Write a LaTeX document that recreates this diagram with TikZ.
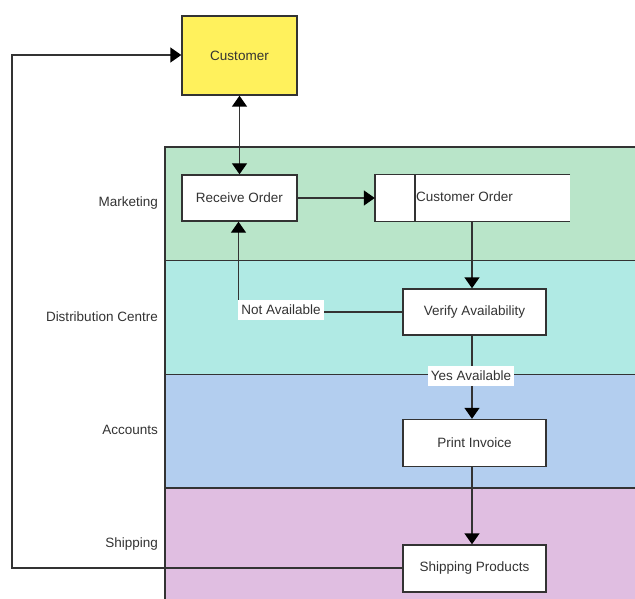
\documentclass[tikz,border=0pt]{standalone}
\usepackage{fontspec}
\setmainfont{Liberation Sans}
\usetikzlibrary{arrows.meta}
\definecolor{linec}{HTML}{333333}
\definecolor{txtc}{HTML}{333333}
\definecolor{custyellow}{HTML}{FFF15C}
\definecolor{lanegreen}{HTML}{B9E5C9}
\definecolor{lanecyan}{HTML}{B0EAE4}
\definecolor{laneblue}{HTML}{B3CEEF}
\definecolor{lanepink}{HTML}{E0BEE1}
\begin{document}
\begin{tikzpicture}[x=1pt,y=-1pt,
  every node/.style={text=txtc, font=\fontsize{13.5}{16}\selectfont},
  procbox/.style={draw=linec, line width=1.4pt, fill=white, inner sep=0pt},
  lanebox/.style={draw=linec, line width=1.4pt},
  lanelabel/.style={anchor=east, inner sep=0pt},
  conn/.style={draw=linec, line width=1.4pt},
  tip/.style={Triangle[length=11pt,width=15pt,color=black]},
  arr/.style={conn, -{Triangle[length=11pt,width=15pt,color=black]}},
  edgelabel/.style={fill=white, inner xsep=3pt, inner ysep=5pt}
]
\useasboundingbox (0,0) rectangle (635,599);
\clip (0,0) rectangle (635,599);
% lanes
\path[lanebox, fill=lanegreen] (165,147) rectangle (645,260.5);
\path[lanebox, fill=lanecyan] (165,260.5) rectangle (645,374.5);
\path[lanebox, fill=laneblue] (165,374.5) rectangle (645,488);
\path[lanebox, fill=lanepink] (165,488) rectangle (645,610);
\node[lanelabel] (lm) at (158,203) {Marketing};
\node[lanelabel] (ld) at (158,317) {Distribution Centre};
\node[lanelabel] (la) at (158,430) {Accounts};
\node[lanelabel] (ls) at (158,544) {Shipping};
% nodes
\node[procbox, fill=custyellow, minimum width=115pt, minimum height=79pt] (cu) at (239.5,55.5) {Customer};
\node[procbox, minimum width=115pt, minimum height=46pt] (ro) at (239.5,198) {Receive Order};
\node[fill=white, inner sep=0pt, minimum width=195pt, minimum height=46pt] (co) at (472.5,198) {};
\draw[conn] (co.north east) -- (co.north west) -- (co.south west) -- (co.south east);
\coordinate (codiv) at (415,198);
\draw[conn] (codiv |- co.north) -- (codiv |- co.south);
\node[anchor=west, inner sep=0pt] (cot) at (416,197) {Customer Order};
\node[procbox, minimum width=143pt, minimum height=46pt] (va) at (474.5,312) {Verify Availability};
\node[procbox, minimum width=143pt, minimum height=47pt] (pi) at (474.5,443) {Print Invoice};
\node[procbox, minimum width=143pt, minimum height=47pt] (sp) at (474.5,568.5) {Shipping Products};
% connectors
\coordinate (xa) at (472,0);
\draw[conn, {Triangle[length=11pt,width=15pt,color=black]}-{Triangle[length=11pt,width=15pt,color=black]}] (cu.south) -- (ro.north);
\draw[arr] (ro.east) -- (co.west);
\draw[arr] (xa |- co.south) -- (xa |- va.north);
\coordinate (nab) at (238.5,312);
\draw[arr] (va.west) -- (nab) -- (nab |- ro.south);
\node[edgelabel] (nal) at (281,310) {Not Available};
\draw[arr] (xa |- va.south) -- (xa |- pi.north);
\node[edgelabel] (yal) at (471,376) {Yes Available};
\draw[arr] (xa |- pi.south) -- (xa |- sp.north);
\coordinate (lb) at (12,568);
\coordinate (lt) at (12,55);
\draw[arr] (sp.west |- lb) -- (lb) -- (lt) -- (cu.west |- lt);
\end{tikzpicture}
\end{document}
